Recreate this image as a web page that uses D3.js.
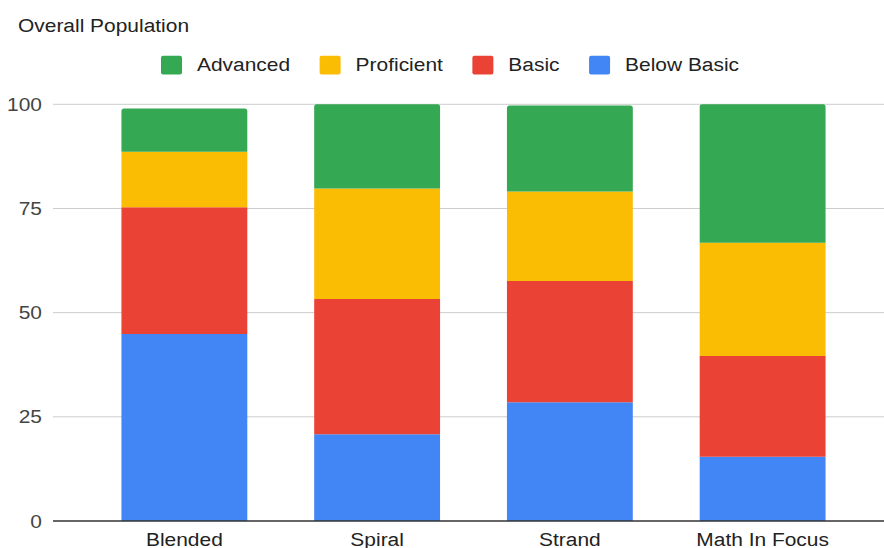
<!DOCTYPE html>
<html>
<head>
<meta charset="utf-8">
<script src="https://cdn.jsdelivr.net/npm/d3@7"></script>
<style>
  body { margin: 0; background: #fff; }
  svg { display: block; font-family: Arial, "Liberation Sans", sans-serif; }
</style>
</head>
<body>
<svg id="chart" width="884" height="548"></svg>
<script>
// Data
const categories = ['Blended', 'Spiral', 'Strand', 'Math In Focus'];
const seriesNames = ['Below Basic', 'Basic', 'Proficient', 'Advanced'];
const belowBasic = [44.9, 20.8, 28.5, 15.4];
const basic = [30.4, 32.5, 29.1, 24.2];
const proficient = [13.3, 26.5, 21.5, 27.2];
const advanced = [10.4, 20.2, 20.6, 33.2];
const yTicks = [0, 25, 50, 75, 100];
const legendOrder = ['Advanced', 'Proficient', 'Basic', 'Below Basic'];

const colors = { 'Advanced': '#34a853', 'Proficient': '#fbbc04', 'Basic': '#ea4335', 'Below Basic': '#4285f4' };

// source image is stretched horizontally a bit, so text gets scaled too
const sx = 1.12;
const fontSize = 18.7;

const svg = d3.select('#chart');
const plot = { left: 53, right: 884, top: 104.3, bottom: 521 };

const table = categories.map((c, i) => ({
    category: c,
    'Below Basic': belowBasic[i], 'Basic': basic[i], 'Proficient': proficient[i], 'Advanced': advanced[i]
}));
const stacked = d3.stack().keys(seriesNames)(table);

const x = d3.scaleBand().domain(categories).range([88, 859]).paddingInner(0.347).paddingOuter(0.1735);
const y = d3.scaleLinear().domain([0, 100]).range([plot.bottom, plot.top]);

function sText(sel, xPos, yPos, anchor) {
    return sel.attr('transform', `translate(${xPos},${yPos}) scale(${sx},1)`).attr('text-anchor', anchor);
}

// title
sText(svg.append('text'), 18, 31.5, 'start').text('Overall Population')
    .attr('font-size', fontSize).attr('fill', '#222');

// gridlines
svg.append('g').selectAll('line').data(yTicks.filter(t => t > 0)).enter().append('line')
    .attr('x1', plot.left).attr('x2', plot.right)
    .attr('y1', d => y(d)).attr('y2', d => y(d))
    .attr('stroke', '#cccccc').attr('stroke-width', 1);

// y tick labels
svg.append('g').selectAll('text').data(yTicks).enter().append('text')
    .each(function(d) { sText(d3.select(this), 42, y(d) + 6.5, 'end'); })
    .attr('font-size', fontSize).attr('fill', '#444').text(d => d);

// bars
const topKey = {};
table.forEach(row => {
    let last = null;
    seriesNames.forEach(k => { if (row[k] > 0) last = k; });
    topKey[row.category] = last;
});

function segPath(x0, x1, y0, y1, round) {
    const r = round ? Math.min(2.5, (y0 - y1) / 2) : 0;
    return `M${x0},${y0}L${x0},${y1 + r}Q${x0},${y1} ${x0 + r},${y1}L${x1 - r},${y1}Q${x1},${y1} ${x1},${y1 + r}L${x1},${y0}Z`;
}

svg.append('g').selectAll('g').data(stacked).enter().append('g')
    .attr('fill', d => colors[d.key])
    .each(function(s) {
        d3.select(this).selectAll('path').data(s).enter().append('path')
            .attr('d', d => {
                const x0 = x(d.data.category), x1 = x0 + x.bandwidth();
                return segPath(x0, x1, y(d[0]), y(d[1]), topKey[d.data.category] === s.key);
            });
    });

// baseline
svg.append('line').attr('x1', plot.left).attr('x2', plot.right)
    .attr('y1', y(0)).attr('y2', y(0)).attr('stroke', '#333').attr('stroke-width', 1.5);

// x labels
svg.append('g').selectAll('text').data(categories).enter().append('text')
    .each(function(d) { sText(d3.select(this), x(d) + x.bandwidth() / 2, 546, 'middle'); })
    .attr('font-size', fontSize).attr('fill', '#222').text(d => d);

// legend
const legend = svg.append('g');
let lx = 161;
legendOrder.forEach(name => {
    legend.append('rect').attr('x', lx).attr('y', 55.7).attr('width', 21).attr('height', 18.7)
        .attr('rx', 2).attr('fill', colors[name]);
    const t = sText(legend.append('text'), lx + 36, 71, 'start')
        .attr('font-size', fontSize).attr('fill', '#222').text(name);
    lx += 36 + t.node().getComputedTextLength() * sx + 29.5;
});
</script>
</body>
</html>
